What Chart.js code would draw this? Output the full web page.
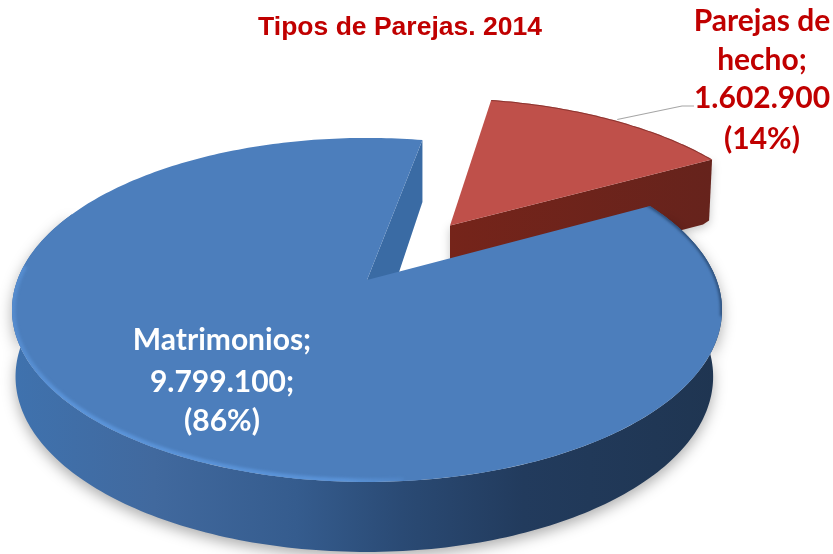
<!DOCTYPE html>
<html><head><meta charset="utf-8">
<style>html,body{margin:0;padding:0;background:#fff}#w{width:833px;height:554px;position:relative}</style>
<script src="https://cdn.jsdelivr.net/npm/chart.js@4/dist/chart.umd.js"></script>
</head><body><div id="w"><canvas id="c"></canvas></div>
<script>
const categories = ['Parejas de hecho', 'Matrimonios'];
const values = [1602900, 9799100];
const titleText = 'Tipos de Parejas. 2014';
const redLabel = ['Parejas de', 'hecho;', '1.602.900', '(14%)'];
const blueLabel = ['Matrimonios;', '9.799.100;', '(86%)'];
const faceColors = ['#bf504a', '#4c7ebc'];

// perspective view of the pie plane
const view = {cx: 367, cy: 280, rx: 349.6, ry: 166.8, k: 0.174};
const P = (u, v) => { const w = 1 - view.k * v; return {x: view.cx + view.rx * u / w, y: view.cy + view.ry * v / w}; };
const lift = v => 66 + 4 * v;
const rad = d => d * Math.PI / 180;

function rimPts(a0, a1, ou, ov) {
  const pts = [], n = Math.max(2, Math.ceil(Math.abs(a1 - a0) / rad(1)));
  for (let i = 0; i <= n; i++) {
    const a = a0 + (a1 - a0) * i / n, u = ou + Math.cos(a), v = ov + Math.sin(a), p = P(u, v);
    pts.push({x: p.x, y: p.y, d: lift(v)});
  }
  return pts;
}
function trace(ctx, pts) { pts.forEach((p, i) => i ? ctx.lineTo(p.x, p.y) : ctx.moveTo(p.x, p.y)); }

class Arc3D extends Chart.ArcElement {
  static id = 'arc3d';
  draw(ctx) {
    const idx = this.$context.dataIndex, a0 = this.startAngle, a1 = this.endAngle;
    const mid = (a0 + a1) / 2, off = (this.options.offset || 0) / this.outerRadius;
    const ou = off * Math.cos(mid), ov = off * Math.sin(mid);
    const apex = P(ou, ov), rim = rimPts(a0, a1, ou, ov);
    ctx.save();
    if (idx === 0) {
      // dark radial wall of the detached slice
      const end = rim[rim.length - 1];
      const g = ctx.createLinearGradient(apex.x, 0, end.x, 0);
      g.addColorStop(0, '#75241a'); g.addColorStop(1, '#66231c');
      ctx.save();
      ctx.shadowColor = 'rgba(0,0,0,.22)'; ctx.shadowBlur = 10; ctx.shadowOffsetY = 3;
      ctx.beginPath();
      ctx.moveTo(apex.x, apex.y);
      ctx.lineTo(end.x, end.y);
      ctx.lineTo(end.x - 3, end.y + 61);
      ctx.lineTo(end.x - 9, end.y + 65);
      ctx.lineTo(apex.x, apex.y + 65);
      ctx.closePath();
      ctx.fillStyle = g; ctx.fill();
      ctx.restore();
    } else {
      // outer wall; its lower edge is a slightly narrower ellipse
      const a = rad(-25), b = rad(205);
      const outer = rimPts(a, b, 0, 0);
      const low = outer.map(p => ({x: view.cx + (p.x - view.cx) * (p.x < view.cx ? 0.99 : 0.975), y: p.y + p.d})).reverse();
      const g = ctx.createLinearGradient(12, 0, 722, 0);
      g.addColorStop(0, '#3f72ae'); g.addColorStop(.2, '#41699e'); g.addColorStop(.4, '#355c8e');
      g.addColorStop(.55, '#2a4a74'); g.addColorStop(.72, '#223b5d'); g.addColorStop(1, '#1f3551');
      ctx.save();
      ctx.shadowColor = 'rgba(0,0,0,.32)'; ctx.shadowBlur = 14; ctx.shadowOffsetY = 5;
      ctx.beginPath(); trace(ctx, outer); low.forEach(p => ctx.lineTo(p.x, p.y)); ctx.closePath();
      ctx.fillStyle = g; ctx.fill();
      ctx.restore();
      // inner wall at the slice start
      const first = rim[rim.length - 1];
      ctx.beginPath();
      ctx.moveTo(apex.x, apex.y); ctx.lineTo(first.x, first.y);
      ctx.lineTo(first.x, first.y + 62); ctx.lineTo(apex.x, apex.y + 88); ctx.closePath();
      ctx.fillStyle = '#3a6ba4'; ctx.fill();
    }
    // top face
    ctx.beginPath(); ctx.moveTo(apex.x, apex.y); rim.forEach(p => ctx.lineTo(p.x, p.y)); ctx.closePath();
    ctx.fillStyle = this.options.backgroundColor; ctx.fill();
    ctx.save(); ctx.clip();
    if (idx === 1) {
      ctx.filter = 'blur(1.5px)';
      const hi = ctx.createLinearGradient(12, 0, 430, 0);
      hi.addColorStop(0, 'rgba(92,150,220,.55)'); hi.addColorStop(.12, 'rgba(92,150,220,.9)');
      hi.addColorStop(.8, 'rgba(92,150,220,.85)'); hi.addColorStop(1, 'rgba(92,150,220,0)');
      ctx.strokeStyle = hi; ctx.lineWidth = 7;
      ctx.beginPath(); trace(ctx, rimPts(rad(85), rad(185), 0, 0)); ctx.stroke();
      ctx.strokeStyle = '#26456c'; ctx.lineWidth = 3;
      ctx.beginPath(); trace(ctx, rimPts(rad(-38), rad(12), 0, 0)); ctx.stroke();
      ctx.filter = 'none';
    } else {
      ctx.strokeStyle = 'rgba(120,40,35,.7)'; ctx.lineWidth = 2;
      ctx.beginPath(); trace(ctx, rim); ctx.stroke();
    }
    ctx.restore();
    ctx.restore();
  }
}
class Pie3DController extends Chart.PieController {
  static id = 'pie3d';
  static defaults = {...Chart.PieController.defaults, dataElementType: 'arc3d'};
  static overrides = Chart.PieController.overrides;
}
Chart.register(Arc3D, Pie3DController);

const labelsPlugin = {
  id: 'pieLabels',
  afterDatasetsDraw(chart) {
    const ctx = chart.ctx, arc = chart.getDatasetMeta(0).data[0];
    const mid = (arc.startAngle + arc.endAngle) / 2, off = arc.options.offset / arc.outerRadius;
    const a = P((off + 1) * Math.cos(mid) + .02, (off + 1) * Math.sin(mid));
    ctx.save();
    ctx.strokeStyle = '#a6a6a6'; ctx.lineWidth = 1.2;
    ctx.beginPath(); ctx.moveTo(a.x, a.y); ctx.lineTo(682, 106); ctx.lineTo(694, 106); ctx.stroke();
    ctx.textAlign = 'center'; ctx.textBaseline = 'alphabetic';
    ctx.font = 'bold 30px Lato';
    ctx.fillStyle = '#c00000';
    [31, 70, 108, 149].forEach((y, i) => ctx.fillText(redLabel[i], 762, y));
    ctx.fillStyle = '#ffffff';
    [350, 392, 431].forEach((y, i) => ctx.fillText(blueLabel[i], 222, y));
    ctx.restore();
  }
};

new Chart(document.getElementById('c'), {
  type: 'pie3d',
  data: {labels: categories, datasets: [{data: values, backgroundColor: faceColors, borderWidth: 0, offset: [90, 0], clip: false}]},
  options: {
    responsive: true, maintainAspectRatio: false, animation: false,
    rotation: 10.7,
    layout: {padding: {right: 33}},
    plugins: {
      legend: {display: false}, tooltip: {enabled: false},
      title: {display: true, text: titleText, color: '#c00000',
        font: {family: 'Liberation Sans', size: 26.5, weight: 'bold'}, padding: {top: 12, bottom: 0}}
    }
  },
  plugins: [labelsPlugin]
});
</script></body></html>
